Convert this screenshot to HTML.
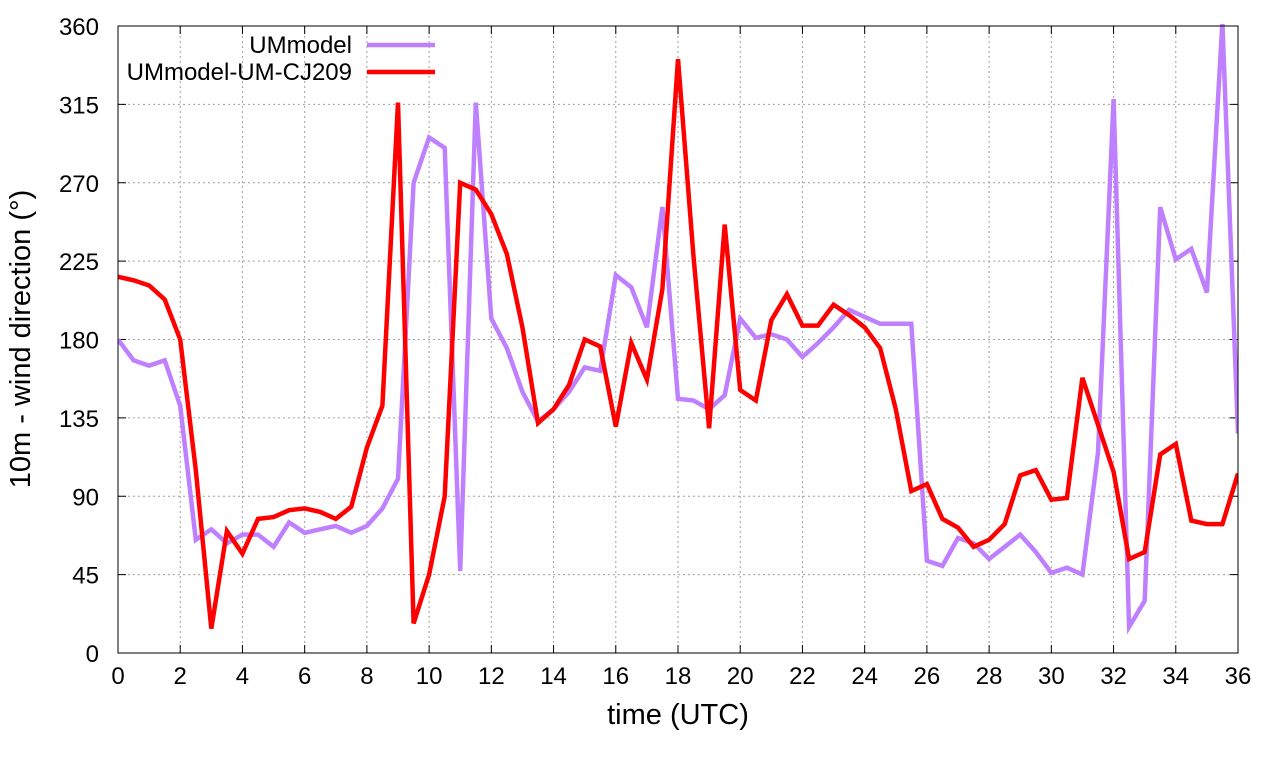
<!DOCTYPE html>
<html><head><meta charset="utf-8"><style>
body{margin:0;background:#fff;}
svg text{font-family:"Liberation Sans",sans-serif;}
</style></head><body>
<svg id="chart" width="1280" height="760" xmlns="http://www.w3.org/2000/svg"></svg>
<script>
const umModel = [180,168,165,168,142,65,71,63,68,68,61,75,69,71,73,69,73,83,100,270,296,290,47,316,192,175,150,133,140,150,164,162,217,210,187,256,146,145,140,148,192,181,183,180,170,178,187,197,193,189,189,189,53,50,66,63,54,61,68,58,46,49,45,115,318,15,30,256,226,232,207,362,126];
const umCJ209 = [216,214,211,203,180,105,14,70,57,77,78,82,83,81,77,84,118,142,316,17,45,90,270,266,252,229,187,132,140,154,180,176,130,178,157,209,341,227,129,246,151,145,191,206,188,188,200,194,187,175,140,93,97,77,72,61,65,74,102,105,88,89,158,131,104,54,58,114,120,76,74,74,103];
const xTicks = [0,2,4,6,8,10,12,14,16,18,20,22,24,26,28,30,32,34,36];
const yTicks = [0,45,90,135,180,225,270,315,360];
const timeStep = 0.5;

const L=118,R=1238,T=26,B=653;
const xs=t=>L+(t/36)*(R-L);
const ys=v=>B-(v/360)*(B-T);
const svg=document.getElementById('chart');
const NS='http://www.w3.org/2000/svg';
function mk(tag,attrs,parent){const e=document.createElementNS(NS,tag);for(const k in attrs)e.setAttribute(k,attrs[k]);(parent||svg).appendChild(e);return e;}

const grid=mk('g',{});


xTicks.forEach(t=>{
  if(t>0&&t<36)mk('line',{x1:xs(t),x2:xs(t),y1:T,y2:B,stroke:'#a0a0a0','stroke-width':1,'stroke-dasharray':'2,3'},grid);
  mk('line',{x1:xs(t),x2:xs(t),y1:B,y2:B-8,stroke:'#000'},grid);
  mk('line',{x1:xs(t),x2:xs(t),y1:T,y2:T+8,stroke:'#000'},grid);
  const tx=mk('text',{x:xs(t),y:B+31,'text-anchor':'middle','font-size':24});
  tx.textContent=t;
  
  
});
yTicks.forEach(v=>{
  if(v>0&&v<360)mk('line',{x1:L,x2:R,y1:ys(v),y2:ys(v),stroke:'#a0a0a0','stroke-width':1,'stroke-dasharray':'2,3'},grid);
  mk('line',{x1:L,x2:L+8,y1:ys(v),y2:ys(v),stroke:'#000'},grid);
  mk('line',{x1:R,x2:R-8,y1:ys(v),y2:ys(v),stroke:'#000'},grid);
  const tx=mk('text',{x:L-19,y:ys(v)+9,'text-anchor':'end','font-size':24});
  tx.textContent=v;
  
  
});

const clip=mk('clipPath',{id:'pc'});
mk('rect',{x:L,y:T-2,width:R-L,height:B-T+2},clip);

function series(data,color,name){
  const pts=data.map((v,i)=>xs(i*timeStep).toFixed(1)+','+ys(v).toFixed(1)).join(' ');
  const p=mk('polyline',{points:pts,fill:'none',stroke:color,'stroke-width':4.5,'stroke-linejoin':'miter','clip-path':'url(#pc)'});
  
  
}
series(umModel,'#bf80ff','series-ummodel');
series(umCJ209,'#ff0000','series-ummodel-um-cj209');

const frame=mk('rect',{x:L,y:T,width:R-L,height:B-T,fill:'none',stroke:'#000','stroke-width':1});



const lg=[['UMmodel','#bf80ff',45],['UMmodel-UM-CJ209','#ff0000',72]];
lg.forEach(([lbl,c,y])=>{
  const t=mk('text',{x:352,y:y+8,'text-anchor':'end','font-size':24});
  t.textContent=lbl;
  
  
  const l=mk('line',{x1:367,x2:435,y1:y,y2:y,stroke:c,'stroke-width':4.5});
  
  
});

const xt=mk('text',{x:(L+R)/2,y:724,'text-anchor':'middle','font-size':29});
xt.textContent='time (UTC)';


const yt=mk('text',{x:0,y:0,'text-anchor':'middle','font-size':29,transform:'translate(30,339) rotate(-90)'});
yt.textContent='10m - wind direction (°)';


</script>
</body></html>
